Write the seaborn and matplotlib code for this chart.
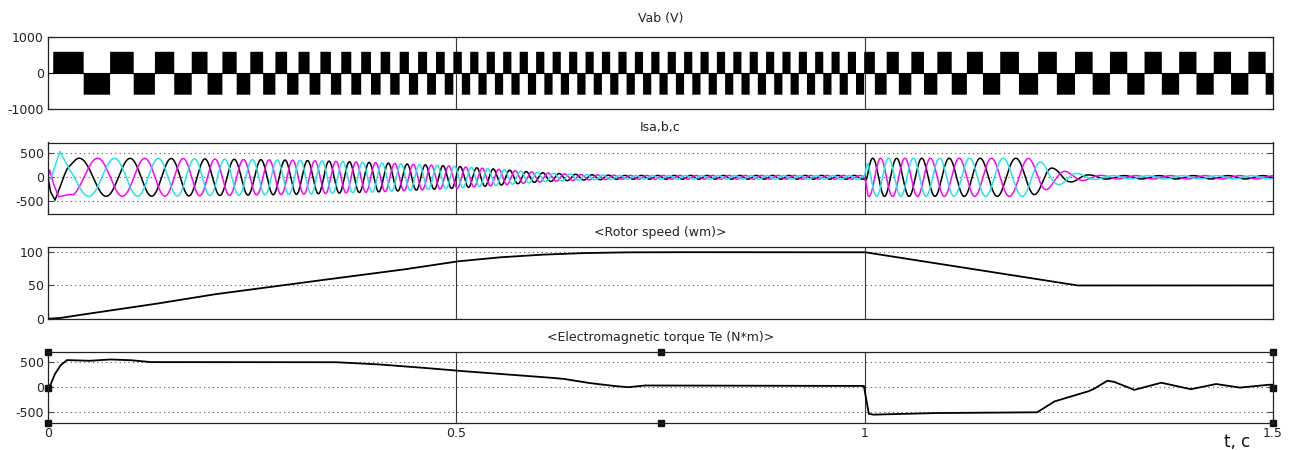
import numpy as np
import pandas as pd
import matplotlib
matplotlib.use("Agg")
import matplotlib.pyplot as plt
import seaborn as sns

# ---------------- data ----------------
# supply frequency (Hz), read from the widths of the Vab blocks
freq_t  = [0.0, 0.04, 0.103, 0.153, 0.195, 0.23, 0.262, 0.293, 0.33, 0.37, 0.42, 0.47, 0.52,
           0.999, 1.003, 1.04, 1.07, 1.10, 1.14, 1.185, 1.232, 1.28, 1.5]
freq_hz = [12.0, 14.3, 18.1, 22.0, 27.0, 29.0, 32.6, 35.5, 38.0, 41.0, 43.0, 46.0, 49.5,
           50.0, 36.0, 33.0, 32.0, 28.0, 25.0, 21.0, 22.0, 23.6, 23.6]

vab_level = 600.0          # height of PWM blocks (V)
vab_first_edge = 0.0058    # first positive block starts here (s)

# stator current envelope (A)
cur_amp_t = [0.0, 0.05, 0.15, 0.30, 0.40, 0.50, 0.55, 0.60, 0.65, 0.70, 1.0, 1.004,
             1.20, 1.215, 1.232, 1.252, 1.275, 1.30, 1.5]
cur_amp   = [400, 400, 395, 360, 310, 230, 170, 100, 60, 40, 40, 400,
             400, 330, 180, 100, 50, 35, 35]
black_peak_t = 0.1005      # a positive peak of phase a (black)

# start-up transient of the three currents
tr_black_t = [0.0, 0.003, 0.0086, 0.016, 0.024, 0.031]
tr_black   = [0, -300, -480, -150, 250, 380]
tr_mag_t   = [0.0, 0.002, 0.007, 0.013, 0.022, 0.031]
tr_mag     = [0, 150, -150, -410, -380, -200]
tr_cyan_t  = [0.0, 0.004, 0.0147, 0.022, 0.031]
tr_cyan    = [-90, 0, 540, 300, -100]

# rotor speed (rad/s)
speed_t = [0.0, 0.015, 0.03, 0.125, 0.20, 0.31, 0.43, 0.50, 0.55, 0.60, 0.65, 0.70, 0.75,
           1.0, 1.26, 1.5]
speed   = [0, 1, 4, 21, 36, 54, 73, 86, 92, 96, 98.5, 99.7, 100, 100, 50, 50]

# electromagnetic torque (N*m)
torque_t = [0.0, 0.003, 0.008, 0.015, 0.023, 0.05, 0.075, 0.10, 0.125, 0.35, 0.40, 0.45,
            0.50, 0.55, 0.60, 0.63, 0.66, 0.69, 0.71, 0.73, 0.999, 1.005, 1.01, 1.08,
            1.211, 1.222, 1.232, 1.255, 1.273, 1.28, 1.29, 1.297, 1.305, 1.33, 1.363,
            1.399, 1.43, 1.459, 1.494, 1.5]
torque   = [0, 45, 250, 430, 540, 525, 553, 540, 500, 500, 460, 400,
            330, 270, 210, 170, 90, 30, 0, 35, 26, -528, -545, -514,
            -500, -390, -284, -170, -87, -40, 60, 130, 110, -53, 91,
            -40, 65, -8, 50, 50]

titles = ["Vab (V)", "Isa,b,c", "<Rotor speed (wm)>", "<Electromagnetic torque Te (N*m)>"]
yticks = [[-1000, 0, 1000], [-500, 0, 500], [0, 50, 100], [-500, 0, 500]]
ylims = [(-1000, 1000), (-770, 730), (0, 107.5), (-717, 705)]
xticks = [0, 0.5, 1, 1.5]
xticklabels = ["0", "0.5", "1", "1.5"]

# ---------------- build sampled signals ----------------
t = np.linspace(0, 1.5, 30001)
f = np.interp(t, freq_t, freq_hz)
theta = 2 * np.pi * np.concatenate([[0], np.cumsum((f[1:] + f[:-1]) / 2 * np.diff(t))])

th_edge = np.interp(vab_first_edge, t, theta)
vab = vab_level * np.sign(np.sin(theta - th_edge))
vab[t < vab_first_edge] = 0

A = np.interp(t, cur_amp_t, cur_amp)
th_b = np.interp(black_peak_t, t, theta)
base = theta - th_b + np.pi / 2
ia = A * np.sin(base)
ib = A * np.sin(base - 2 * np.pi / 3)
ic = A * np.sin(base - 4 * np.pi / 3)
w = np.clip((t - 0.018) / 0.013, 0, 1)
ia = (1 - w) * np.interp(t, tr_black_t, tr_black) + w * ia
ib = (1 - w) * np.interp(t, tr_mag_t, tr_mag) + w * ib
ic = (1 - w) * np.interp(t, tr_cyan_t, tr_cyan) + w * ic

cur_df = pd.DataFrame({"t": np.tile(t, 3), "i": np.concatenate([ia, ib, ic]),
                       "phase": np.repeat(["a", "b", "c"], len(t))})
sp_df = pd.DataFrame({"t": t, "w": np.interp(t, speed_t, speed)})
te_df = pd.DataFrame({"t": t, "te": np.interp(t, torque_t, torque)})

# ---------------- plotting ----------------
sns.set_theme(style="white")
plt.rcParams["font.family"] = ["DejaVu Sans"]

fig = plt.figure(figsize=(12.93, 4.5), dpi=100)
L, W, H = 48 / 1293, 1225 / 1293, 71.5 / 450
bottoms = [1 - 108.5 / 450, 1 - 214 / 450, 1 - 318.7 / 450, 1 - 423.3 / 450]
axes = [fig.add_axes([L, b, W, H]) for b in bottoms]

ax = axes[0]
ax.fill_between(t, 0, vab, color="black", linewidth=0)
ax.axhline(0, color="black", lw=0.8)

sns.lineplot(data=cur_df, x="t", y="i", hue="phase",
             palette={"a": "#000000", "b": "#ff00ff", "c": "#22e6e6"},
             estimator=None, sort=False, errorbar=None, lw=1.1, legend=False, ax=axes[1])
sns.lineplot(data=sp_df, x="t", y="w", color="black", lw=1.3, estimator=None,
             errorbar=None, ax=axes[2])
sns.lineplot(data=te_df, x="t", y="te", color="black", lw=1.3, estimator=None,
             errorbar=None, ax=axes[3])

title_pads = [11, 8, 8, 8]
for k, ax in enumerate(axes):
    ax.set_xlim(0, 1.5)
    ax.set_ylim(*ylims[k])
    ax.set_yticks(yticks[k])
    ax.set_yticklabels([str(v) for v in yticks[k]], fontsize=9, color="#222222")
    ax.set_xticks(xticks)
    ax.set_xlabel("")
    ax.set_ylabel("")
    ax.set_title(titles[k], fontsize=9, pad=title_pads[k], color="#222222")
    for v in yticks[k]:
        if ylims[k][0] < v < ylims[k][1]:
            ax.axhline(v, color="#555555", lw=0.8, ls=(0, (1, 3)), zorder=0.5)
    for xv in (0.5, 1.0):
        ax.axvline(xv, color="#333333", lw=0.8, zorder=0.5)
    ax.tick_params(axis="both", direction="in", length=4, width=0.8, color="#444444",
                   left=True, right=True, top=True, bottom=True, pad=3)
    for s in ax.spines.values():
        s.set_color("#222222")
        s.set_linewidth(0.9)
    if k < 3:
        ax.set_xticklabels([])
    else:
        ax.set_xticklabels(xticklabels, fontsize=9, color="#222222")

# selection handles on the torque axes
hx = [0, 0, 0, 0.5, 0.5, 1, 1, 1]
hy = [0, 0.5, 1, 0, 1, 0, 0.5, 1]
axes[3].plot(hx, hy, ls="none", marker="s", ms=4, color="#111111",
             transform=axes[3].transAxes, clip_on=False)

fig.text(1237 / 1293, 1 - 442 / 450, "t, c", fontsize=12, ha="center", va="center", color="#111111")

fig.savefig("out.png", dpi=100)
